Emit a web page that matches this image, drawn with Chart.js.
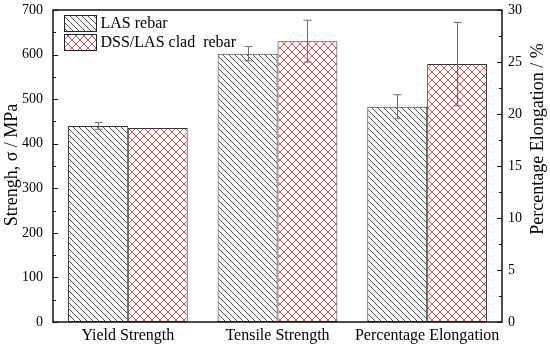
<!DOCTYPE html>
<html>
<head>
<meta charset="utf-8">
<script src="https://cdn.jsdelivr.net/npm/chart.js@4.4.1/dist/chart.umd.min.js"></script>
<style>
    html, body { margin: 0; padding: 0; background: #fff; }
    #wrap { width: 550px; height: 348px; }
</style>
</head>
<body>
<div id="wrap"><canvas id="rebarChart" width="550" height="348"></canvas></div>
<script>
// Rebar mechanical properties - grouped bars with two y axes

const categories = ['Yield Strength', 'Tensile Strength', 'Percentage Elongation'];
const seriesNames = ['LAS rebar', 'DSS/LAS clad  rebar'];

// strength (MPa, left axis)
const lasStrength = [440, 602, null];
const lasStrengthErr = [7.5, 16, null];
const dssStrength = [435, 630, null];
const dssStrengthErr = [0, 47, null];

// elongation (%, right axis)
const lasElongation = [null, null, 20.7];
const lasElongationErr = [null, null, 1.15];
const dssElongation = [null, null, 24.8];
const dssElongationErr = [null, null, 4.0];

const strengthTicks = [0, 100, 200, 300, 400, 500, 600, 700];
const elongationTicks = [0, 5, 10, 15, 20, 25, 30];

const SERIF = '"Liberation Serif", "Times New Roman", serif';

function makeHatch(size) {
    const c = document.createElement('canvas');
    c.width = size; c.height = size;
    const g = c.getContext('2d');
    g.fillStyle = '#ffffff';
    g.fillRect(0, 0, size, size);
    g.strokeStyle = '#3a3a3a';
    g.lineWidth = 0.9;
    g.beginPath();
    g.moveTo(-1, -1); g.lineTo(size + 1, size + 1);
    g.moveTo(size - 1, -1); g.lineTo(size + 1, 1);
    g.moveTo(-1, size - 1); g.lineTo(1, size + 1);
    g.stroke();
    return g.createPattern(c, 'repeat');
}

function makeCross(size) {
    const c = document.createElement('canvas');
    c.width = size; c.height = size;
    const g = c.getContext('2d');
    g.fillStyle = '#ffffff';
    g.fillRect(0, 0, size, size);
    g.strokeStyle = '#f03a3a';
    g.lineWidth = 0.9;
    g.beginPath();
    g.moveTo(-1, -1); g.lineTo(size + 1, size + 1);
    g.moveTo(size + 1, -1); g.lineTo(-1, size + 1);
    g.stroke();
    return g.createPattern(c, 'repeat');
}

const lasFill = makeHatch(6);
const dssFill = makeCross(8);

const errorBarsPlugin = {
    id: 'errorBars',
    afterDatasetsDraw(chart) {
        const ctx = chart.ctx;
        ctx.save();
        ctx.strokeStyle = '#6e6e6e';
        ctx.lineWidth = 1;
        chart.data.datasets.forEach((ds, i) => {
            const meta = chart.getDatasetMeta(i);
            const scale = chart.scales[ds.yAxisID];
            meta.data.forEach((bar, j) => {
                const v = ds.data[j];
                const e = ds.errors[j];
                if (v == null || !e) return;
                const yTop = scale.getPixelForValue(v + e);
                const yBot = scale.getPixelForValue(v - e);
                const x = Math.round(bar.x) + 0.5;
                ctx.beginPath();
                ctx.moveTo(x, yTop); ctx.lineTo(x, yBot);
                ctx.moveTo(x - 4, yTop); ctx.lineTo(x + 4, yTop);
                ctx.moveTo(x - 4, yBot); ctx.lineTo(x + 4, yBot);
                ctx.stroke();
            });
        });
        ctx.restore();
    }
};

const frameAndLegendPlugin = {
    id: 'frameAndLegend',
    afterDraw(chart) {
        const ctx = chart.ctx;
        const a = chart.chartArea;
        const yL = chart.scales.y;
        const yR = chart.scales.y2;
        ctx.save();

        // frame
        ctx.strokeStyle = '#111';
        ctx.lineWidth = 1.5;
        ctx.strokeRect(a.left, a.top, a.right - a.left, a.bottom - a.top);

        // inward ticks on both y axes
        ctx.lineWidth = 1;
        ctx.beginPath();
        for (let v = 0; v <= 700; v += 50) {
            const y = Math.round(yL.getPixelForValue(v)) + 0.5;
            const len = v % 100 === 0 ? 5 : 3;
            ctx.moveTo(a.left, y); ctx.lineTo(a.left + len, y);
        }
        for (let v = 0; v <= 30; v += 2.5) {
            const y = Math.round(yR.getPixelForValue(v)) + 0.5;
            const len = v % 5 === 0 ? 5 : 3;
            ctx.moveTo(a.right, y); ctx.lineTo(a.right - len, y);
        }
        ctx.stroke();

        // axis titles
        ctx.fillStyle = '#000';
        ctx.font = '18px ' + SERIF;
        ctx.textAlign = 'center';
        ctx.textBaseline = 'middle';
        ctx.save();
        ctx.translate(12, 165);
        ctx.rotate(-Math.PI / 2);
        ctx.fillText('Strengh, σ / MPa', 0, 0);
        ctx.restore();
        ctx.save();
        ctx.translate(538, 139);
        ctx.rotate(-Math.PI / 2);
        ctx.fillText('Percentage Elongation / %', 0, 0);
        ctx.restore();

        // legend inside plot
        const fills = [lasFill, dssFill];
        ctx.font = '16px ' + SERIF;
        ctx.textAlign = 'left';
        seriesNames.forEach((name, i) => {
            const bx = a.left + 11.5;
            const by = a.top + 5.5 + i * 19;
            ctx.fillStyle = fills[i];
            ctx.fillRect(bx, by, 32, 16);
            ctx.strokeStyle = '#222';
            ctx.lineWidth = 1;
            ctx.strokeRect(bx, by, 32, 16);
            ctx.fillStyle = '#000';
            ctx.fillText(name, bx + 36, by + 8.5);
        });
        ctx.restore();
    }
};

function barSet(label, data, errors, fill, axis) {
    return {
        label: label,
        data: data,
        errors: errors,
        yAxisID: axis,
        backgroundColor: fill,
        borderColor: '#333',
        borderWidth: 1,
        borderSkipped: false,
        skipNull: true,
        categoryPercentage: 0.8,
        barPercentage: 1.0
    };
}

function fitY(width) {
    return function(s) {
        s.width = width;
        s.paddingTop = 0;
        s.paddingBottom = 0;
    };
}

new Chart(document.getElementById('rebarChart'), {
    type: 'bar',
    plugins: [errorBarsPlugin, frameAndLegendPlugin],
    data: {
        labels: categories,
        datasets: [
            barSet(seriesNames[0], lasStrength, lasStrengthErr, lasFill, 'y'),
            barSet(seriesNames[1], dssStrength, dssStrengthErr, dssFill, 'y'),
            barSet(seriesNames[0], lasElongation, lasElongationErr, lasFill, 'y2'),
            barSet(seriesNames[1], dssElongation, dssElongationErr, dssFill, 'y2')
        ]
    },
    options: {
        responsive: false,
        animation: false,
        devicePixelRatio: 1,
        layout: { padding: { top: 10, left: 0, right: 0, bottom: 0 } },
        plugins: {
            legend: { display: false },
            tooltip: { enabled: false }
        },
        scales: {
            x: {
                grid: { display: false, drawTicks: false },
                border: { display: false },
                ticks: {
                    color: '#000',
                    font: { family: SERIF, size: 16 },
                    padding: 4,
                    maxRotation: 0
                },
                afterFit(s) {
                    s.height = 26;
                    s.paddingLeft = 0;
                    s.paddingRight = 0;
                }
            },
            y: {
                position: 'left',
                min: 0,
                max: 700,
                afterBuildTicks(s) { s.ticks = strengthTicks.map(v => ({ value: v })); },
                grid: { display: false, drawTicks: false },
                border: { display: false },
                ticks: {
                    color: '#000',
                    font: { family: SERIF, size: 14 },
                    padding: 10
                },
                afterFit: fitY(53)
            },
            y2: {
                position: 'right',
                min: 0,
                max: 30,
                afterBuildTicks(s) { s.ticks = elongationTicks.map(v => ({ value: v })); },
                grid: { display: false, drawTicks: false },
                border: { display: false },
                ticks: {
                    color: '#000',
                    font: { family: SERIF, size: 14 },
                    padding: 6
                },
                afterFit: fitY(48)
            }
        }
    }
});
</script>
</body>
</html>
